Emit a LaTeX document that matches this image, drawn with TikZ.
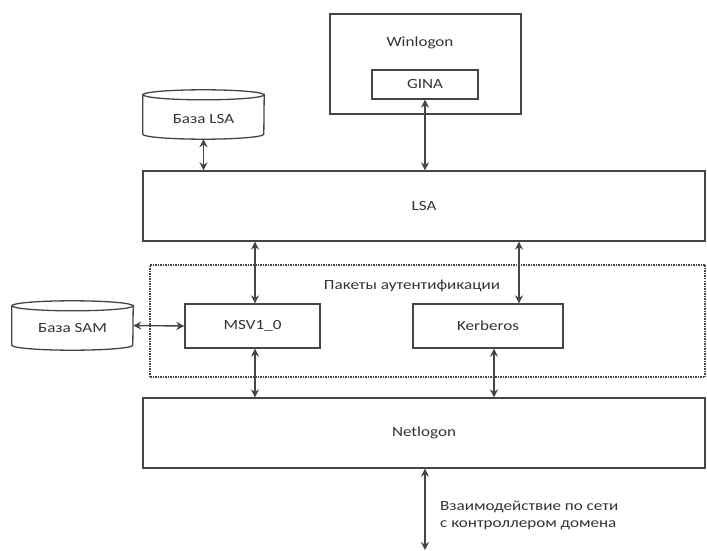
\documentclass[tikz,border=0pt]{standalone}
\usepackage{fontspec}
\setmainfont{Carlito}[FakeStretch=1.22]
\usetikzlibrary{arrows.meta,calc}
\definecolor{edge}{HTML}{454545}
\definecolor{ink}{HTML}{333333}

% cylinder outline drawn around a database node
\newcommand{\dbdraw}[1]{%
  \draw[edge, line width=1.3pt, fill=white]
    ($(#1.north west)+(0,5)$) -- ($(#1.south west)+(0,-5)$)
    arc[start angle=180, end angle=360, x radius=60.5pt, y radius=5pt]
    -- ($(#1.north east)+(0,5)$)
    arc[start angle=0, end angle=-180, x radius=60.5pt, y radius=5pt] -- cycle;
  \draw[edge, line width=1.3pt] ($(#1.north west)+(0,5)$)
    arc[start angle=180, end angle=0, x radius=60.5pt, y radius=5pt];
}

\begin{document}
\begin{tikzpicture}[x=1pt,y=-1pt,
  font=\fontsize{14}{17}\selectfont, text=ink,
  block/.style={draw=edge, line width=1.3pt, rectangle, inner sep=0pt},
  group/.style={draw=edge, line width=1.3pt, dash pattern=on 1.5pt off 1pt, rectangle, inner sep=0pt},
  dbslot/.style={rectangle, inner sep=0pt, minimum width=121pt, minimum height=49pt},
  link/.style={draw=edge, line width=1.4pt, {Stealth[length=8pt,width=8pt]}-{Stealth[length=8pt,width=8pt]}},
]
\useasboundingbox (0,0) rectangle (707,551);

% Winlogon with GINA inside
\node[block, minimum width=191pt, minimum height=100pt] (winlogon) at (425.5,64) {};
\node (winlabel) at (420,43) {Winlogon};
\node[block, minimum width=106pt, minimum height=29pt] (gina) at (425,84.5) {GINA};

% LSA and its database
\node[block, minimum width=562pt, minimum height=70pt] (lsa) at (424,206) {LSA};
\node[dbslot] (lsadb) at (203.5,114.5) {};
\dbdraw{lsadb}
\node (lsadbtext) at ($(lsadb.center)+(0,5)$) {База LSA};

% authentication packages
\node[group, minimum width=555pt, minimum height=112pt] (pkgs) at (427.5,321) {};
\node (pkglabel) at (412,286) {Пакеты аутентификации};
\node[block, fill=white, minimum width=135pt, minimum height=44pt] (msv) at (252.5,326) {MSV1\_0};
\node[block, fill=white, minimum width=150pt, minimum height=44pt] (kerb) at (488,326) {Kerberos};
\node[dbslot] (samdb) at (72.5,325.5) {};
\dbdraw{samdb}
\node (samdbtext) at ($(samdb.center)+(0,3)$) {База SAM};

% Netlogon
\node[block, minimum width=562pt, minimum height=70pt] (netlogon) at (424,433) {Netlogon};
\coordinate (net) at (425,550);
\node[anchor=west, align=left, inner sep=0pt] (netlabel) at (440,515)
  {Взаимодействие по сети\\с контроллером домена};

% connectors
\draw[link] (gina.south) -- (gina.south |- lsa.north);
\draw[link] (lsadb.south) -- (lsadb.south |- lsa.north);
\draw[link] (lsa.south -| 255,0) -- (msv.north -| 255,0);
\draw[link] (lsa.south -| 519,0) -- (kerb.north -| 519,0);
\draw[link] (samdb.east) -- (msv.west);
\draw[link] (msv.south -| 255,0) -- (netlogon.north -| 255,0);
\draw[link] (kerb.south -| 494,0) -- (netlogon.north -| 494,0);
\draw[link] (netlogon.south -| net) -- (net);
\end{tikzpicture}
\end{document}
